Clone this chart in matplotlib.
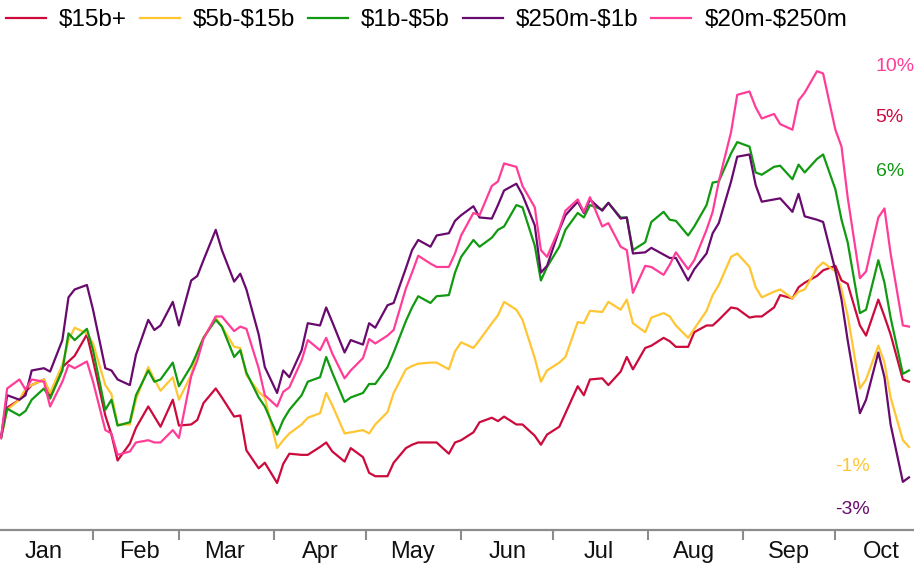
import numpy as np
import pandas as pd
import matplotlib
matplotlib.use("Agg")
import matplotlib.pyplot as plt
import matplotlib.dates as mdates

plt.rcParams['font.family'] = ['Liberation Sans', 'DejaVu Sans']

# datas (um ponto a cada 2 dias úteis)
datas = pd.bdate_range('2018-01-02', '2018-10-25', freq='2B')

# retorno acumulado (%) por faixa de valor de mercado
r_15b = [0.0, 2.7, 3.4, 4.1, 4.7, 5.2, 3.8, 6.3, 6.8, 7.3, 9.2, 6.9, 2.0, 0.3, -2.0,
         -0.5, 0.9, 2.8, 1.9, 1.0, 3.4, 1.1, 1.2, 1.6, 3.1, 4.4, 3.6, 1.9, 2.0, -1.1,
         -2.7, -2.2, -4.0, -2.3, -1.4, -1.5, -1.5, -0.8, -0.4, -1.2, -2.1, -0.9, -1.7, -3.1, -3.4,
         -3.4, -2.2, -0.9, -0.6, -0.4, -0.4, -0.4, -1.4, -0.4, -0.2, 0.5, 1.4, 1.8, 1.5, 1.9,
         1.2, 1.2, 0.2, -0.6, 0.3, 1.0, 2.2, 4.6, 3.8, 5.2, 5.3, 4.7, 5.9, 7.2, 6.1,
         8.0, 8.2, 8.9, 8.6, 8.1, 8.1, 9.4, 10.0, 10.0, 10.5, 11.6, 11.5, 10.7, 10.8, 10.8,
         11.6, 12.7, 12.4, 13.4, 13.8, 14.4, 14.9, 15.3, 14.0, 13.7, 10.0, 9.1, 12.3, 10.8, 9.2,
         5.2, 5.0]
r_5b_15b = [0.0, 2.5, 3.4, 4.4, 4.7, 5.2, 4.0, 6.5, 8.7, 9.8, 9.3, 8.4, 4.7, 3.9, 1.2,
            1.2, 3.4, 6.3, 5.2, 4.2, 5.4, 3.4, 5.6, 7.7, 8.9, 10.7, 9.9, 8.1, 8.0, 5.6,
            4.1, 3.6, -0.9, -0.2, 0.4, 1.2, 1.8, 2.2, 4.0, 2.9, 0.4, 0.5, 0.7, 0.4, 1.2,
            2.3, 4.0, 6.1, 6.4, 6.6, 6.7, 6.7, 6.1, 7.7, 8.5, 8.0, 8.7, 10.2, 10.9, 12.1,
            11.4, 10.5, 7.1, 5.0, 6.0, 6.7, 7.2, 10.3, 10.2, 11.3, 11.2, 12.1, 11.4, 12.3, 10.2,
            9.4, 10.7, 11.1, 10.8, 10.0, 8.9, 9.7, 11.3, 12.7, 13.6, 16.1, 16.4, 15.2, 13.4, 12.5,
            13.0, 13.2, 12.4, 13.0, 13.2, 15.1, 15.6, 14.8, 13.2, 10.9, 4.4, 5.2, 8.2, 6.7, 3.6,
            -0.2, -0.8]
r_1b_5b = [0.0, 2.6, 2.0, 2.4, 3.4, 4.4, 3.5, 6.0, 9.3, 8.7, 9.7, 7.8, 2.5, 3.4, 1.1,
           1.4, 3.8, 6.0, 5.0, 5.2, 6.7, 4.6, 6.4, 7.6, 8.9, 10.5, 9.9, 7.2, 7.8, 5.8,
           3.6, 2.8, 0.3, 1.6, 2.5, 3.8, 5.0, 5.4, 7.2, 5.8, 3.2, 3.6, 4.0, 4.8, 4.8,
           6.3, 7.6, 10.4, 11.6, 12.6, 12.0, 12.6, 12.7, 14.7, 16.1, 17.6, 17.0, 17.8, 18.5, 18.8,
           20.7, 20.5, 17.1, 14.0, 15.2, 17.0, 18.5, 20.0, 19.6, 20.7, 20.3, 20.9, 19.6, 19.6, 16.7,
           17.4, 19.2, 20.1, 19.4, 19.3, 18.0, 18.8, 20.7, 22.7, 22.8, 25.3, 26.3, 25.9, 23.6, 23.4,
           24.1, 24.2, 23.0, 24.3, 23.6, 24.8, 25.2, 22.1, 19.4, 17.4, 11.1, 11.4, 15.8, 13.8, 10.7,
           5.7, 6.0]
r_250m_1b = [0.0, 3.8, 3.4, 3.8, 6.0, 6.2, 5.9, 8.7, 12.5, 13.2, 13.6, 11.4, 6.2, 6.0, 5.2,
             4.7, 7.4, 10.5, 9.6, 10.0, 12.1, 10.0, 14.0, 14.4, 15.8, 18.5, 16.7, 13.9, 14.6, 13.2,
             9.2, 6.3, 4.0, 6.0, 5.4, 7.8, 10.2, 10.0, 11.6, 10.3, 7.6, 8.7, 8.3, 10.2, 9.8,
             11.8, 12.0, 15.1, 16.7, 17.6, 17.0, 18.0, 18.2, 19.3, 19.8, 20.6, 19.6, 19.5, 20.7, 22.0,
             22.6, 21.6, 18.9, 14.7, 15.3, 18.5, 19.8, 21.0, 20.0, 21.2, 20.2, 20.9, 19.5, 19.6, 16.4,
             16.5, 16.9, 16.3, 16.0, 16.0, 14.0, 15.0, 16.4, 18.2, 19.1, 22.8, 25.0, 25.2, 22.5, 21.0,
             21.2, 21.3, 20.1, 21.7, 19.7, 19.4, 19.2, 14.9, 12.3, 8.7, 2.2, 3.4, 7.6, 5.4, 1.2,
             -3.9, -3.5]
r_20m_250m = [0.0, 4.4, 5.2, 4.3, 5.2, 5.0, 2.8, 5.0, 6.5, 6.2, 6.8, 5.0, 0.7, 0.4, -1.5,
              -1.2, -0.4, -0.2, -0.4, -0.4, 0.7, 0.0, 5.5, 6.9, 8.8, 10.8, 10.8, 9.5, 9.9, 9.7,
              6.2, 3.8, 2.8, 4.1, 4.5, 6.9, 8.7, 7.8, 8.9, 7.5, 5.3, 6.0, 7.1, 8.8, 8.4,
              9.1, 9.6, 13.3, 14.7, 16.2, 15.5, 15.2, 15.2, 16.4, 18.0, 20.0, 19.8, 22.4, 22.8, 24.4,
              24.1, 22.4, 20.5, 16.7, 16.1, 18.6, 20.2, 21.2, 20.1, 21.4, 18.8, 19.1, 17.0, 16.7, 12.9,
              15.3, 15.2, 14.5, 15.4, 16.5, 15.0, 15.8, 18.5, 20.1, 22.8, 27.2, 30.5, 30.8, 29.4, 28.4,
              28.8, 27.9, 27.4, 30.0, 30.7, 32.6, 32.4, 27.4, 25.9, 21.4, 14.2, 14.8, 19.6, 20.4, 16.4,
              10.0, 9.9]

nomes = ['$15b+', '$5b-$15b', '$1b-$5b', '$250m-$1b', '$20m-$250m']
cores = ['#cc0a3c', '#ffc633', '#119a11', '#680a6e', '#ff3d99']
series = [r_15b, r_5b_15b, r_1b_5b, r_250m_1b, r_20m_250m]

# rótulos finais (texto e altura em %)
rot_txt = ['10%', '5%', '6%', '-1%', '-3%']
rot_y = [33.0, 28.5, 23.7, -2.5, -6.4]
rot_cor = ['#ff3d99', '#cc0a3c', '#119a11', '#ffc633', '#680a6e']
rot_x = [0.958, 0.958, 0.958, 0.914, 0.914]

fig = plt.figure(figsize=(9.14, 5.66), dpi=100)
ax = fig.add_axes([0, 36 / 566, 1, 485 / 566])

for nome, cor, s in zip(nomes, cores, series):
    ax.plot(datas, s, color=cor, lw=1.6, label=nome.replace('$', r'\$'))

for t, y, c, x in zip(rot_txt, rot_y, rot_cor, rot_x):
    ax.text(x, y, t, color=c, fontsize=14, ha='left', va='center',
            transform=ax.get_yaxis_transform())

x0 = mdates.date2num(pd.Timestamp('2018-01-02'))
x1 = mdates.date2num(pd.Timestamp('2018-10-25'))
ax.set_xlim(x0 - 0.33, x1 + 1.63)
ax.set_ylim(-8.18, 34.93)

ax.xaxis.set_major_locator(mdates.MonthLocator())
ax.xaxis.set_major_formatter(plt.NullFormatter())
ax.xaxis.set_minor_locator(mdates.MonthLocator(bymonthday=16))
ax.xaxis.set_minor_formatter(mdates.DateFormatter('%b'))
ax.tick_params(axis='x', which='major', length=7, width=1.5, color='#8c8c8c', direction='out')
ax.tick_params(axis='x', which='minor', length=0, pad=8, labelsize=17, labelcolor='#111111')

ax.set_yticks([])
for lado in ['left', 'right', 'top']:
    ax.spines[lado].set_visible(False)
ax.spines['bottom'].set_color('#8c8c8c')
ax.spines['bottom'].set_linewidth(1.6)

fig.legend(loc='center left', bbox_to_anchor=(6 / 914, 1 - 20 / 566), ncol=5,
           frameon=False, fontsize=17.5, handlelength=1.65, handletextpad=0.53,
           columnspacing=0.53, borderaxespad=0, borderpad=0)

fig.savefig('out.png', dpi=100)
